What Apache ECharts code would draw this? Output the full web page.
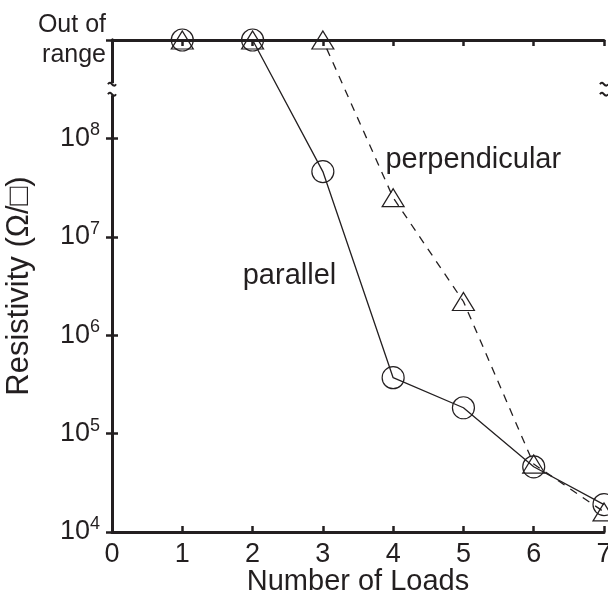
<!DOCTYPE html>
<html>
<head>
<meta charset="utf-8">
<script src="https://cdn.jsdelivr.net/npm/echarts@6/dist/echarts.min.js"></script>
<style>
html,body{margin:0;padding:0;background:#fff;}
#chart{width:608px;height:603px;}
</style>
</head>
<body>
<div id="chart"></div>
<script>
// Data
const loads = [1, 2, 3, 4, 5, 6, 7];
const OUT_OF_RANGE = 1e9;
const parallelValues = [OUT_OF_RANGE, OUT_OF_RANGE, 4.6e7, 3.7e5, 1.83e5, 4.6e4, 1.9e4];
const perpendicularValues = [OUT_OF_RANGE, OUT_OF_RANGE, OUT_OF_RANGE, 2.5e7, 2.2e6, 4.9e4, 1.6e4];
const yTickExponents = [4, 5, 6, 7, 8];
const xTickLabels = ['0', '1', '2', '3', '4', '5', '6', '7'];
const outOfRangeLines = ['Out of', 'range'];

const FONT = 'Liberation Sans, Arial, Helvetica, sans-serif';
const INK = '#231f20';
const FS = 27;
const FT = 29;

const chart = echarts.init(document.getElementById('chart'), null, {renderer: 'canvas'});

function pairs(xs, ys) { return xs.map((x, i) => [x, ys[i]]); }

const axisLine = {show: true, lineStyle: {color: INK, width: 3}};
const tickIn = {show: true, inside: true, length: 6, lineStyle: {color: INK, width: 2.5}};

const option = {
  animation: false,
  backgroundColor: '#fff',
  grid: {left: 112, right: 4, top: 40, bottom: 71, containLabel: false, outerBoundsMode: 'none'},
  xAxis: [
    {
      type: 'value', min: 0, max: 7, interval: 1, position: 'bottom',
      axisLine: axisLine, axisTick: tickIn, splitLine: {show: false},
      axisLabel: {
        margin: 9, color: INK, fontFamily: FONT, fontSize: FS, hideOverlap: false,
        formatter: v => xTickLabels[Math.round(v)]
      },
      name: 'Number of Loads', nameLocation: 'middle', nameGap: 35, nameMoveOverlap: false,
      nameTextStyle: {color: INK, fontFamily: FONT, fontSize: FT}
    },
    {
      type: 'value', min: 0, max: 7, interval: 1, position: 'top',
      axisLine: axisLine, axisTick: tickIn, axisLabel: {show: false}, splitLine: {show: false}
    }
  ],
  yAxis: [
    {
      type: 'log', logBase: 10, min: 1e4, max: 1e9, position: 'left',
      axisLine: axisLine, axisTick: tickIn, splitLine: {show: false},
      axisLabel: {
        margin: 12, color: INK, fontFamily: FONT, fontSize: FS, hideOverlap: false,
        formatter: function (v) {
          const e = Math.round(Math.log10(v));
          if (e === 9) return '{o|' + outOfRangeLines[0] + '}\n{o|' + outOfRangeLines[1] + '}';
          if (yTickExponents.indexOf(e) < 0) return '';
          return '{b|10}{s|' + e + '}';
        },
        rich: {
          b: {fontFamily: FONT, fontSize: FS, color: INK, lineHeight: 32},
          s: {fontFamily: FONT, fontSize: 18, color: INK, padding: [0, 0, 16, 0], lineHeight: 32},
          o: {fontFamily: FONT, fontSize: 25, color: INK, lineHeight: 30, align: 'right', padding: [0, -6, 0, 0]}
        }
      },
      name: 'Resistivity (\u03A9/\u25A1)', nameLocation: 'middle', nameGap: 77, nameRotate: 90, nameMoveOverlap: false,
      nameTextStyle: {color: INK, fontFamily: FONT, fontSize: 31}
    },
    {
      type: 'log', logBase: 10, min: 1e4, max: 1e9, position: 'right',
      axisLine: axisLine, axisTick: tickIn, axisLabel: {show: false}, splitLine: {show: false}
    }
  ],
  series: [
    {
      name: 'parallel', type: 'line', data: pairs(loads, parallelValues),
      symbol: 'circle', symbolSize: 22, clip: false, z: 3,
      lineStyle: {color: INK, width: 1.3, type: 'solid'},
      itemStyle: {color: 'rgba(0,0,0,0)', borderColor: INK, borderWidth: 1.2}
    },
    {
      name: 'perpendicular', type: 'line', data: pairs(loads, perpendicularValues),
      symbol: 'triangle', symbolSize: [22, 18], clip: false, z: 3,
      lineStyle: {color: INK, width: 1.3, type: [8, 7]},
      itemStyle: {color: 'rgba(0,0,0,0)', borderColor: INK, borderWidth: 1.2}
    }
  ]
};
chart.setOption(option);

// annotations and axis breaks positioned through the chart's own scales
function px(x, y) { return chart.convertToPixel({xAxisIndex: 0, yAxisIndex: 0}, [x, y]); }
const pPerp = px(3.89, Math.pow(10, 7.78));
const pPar = px(1.86, Math.pow(10, 6.6));
const yBreak = chart.convertToPixel({yAxisIndex: 0}, Math.pow(10, 8.5));
const xLeft = chart.convertToPixel({xAxisIndex: 0}, 0);
const xRight = chart.convertToPixel({xAxisIndex: 0}, 7);

function breakMark(x) {
  return [
    {type: 'rect', shape: {x: x - 5, y: yBreak - 6, width: 10, height: 12}, style: {fill: '#fff'}, z: 100},
    {type: 'bezierCurve', shape: {x1: x - 4, y1: yBreak - 5, x2: x + 4, y2: yBreak - 5, cpx1: x - 1, cpy1: yBreak - 10, cpx2: x + 1, cpy2: yBreak}, style: {stroke: INK, lineWidth: 2, fill: null}, z: 101},
    {type: 'bezierCurve', shape: {x1: x - 4, y1: yBreak + 5, x2: x + 4, y2: yBreak + 5, cpx1: x - 1, cpy1: yBreak, cpx2: x + 1, cpy2: yBreak + 10}, style: {stroke: INK, lineWidth: 2, fill: null}, z: 101}
  ];
}

chart.setOption({
  graphic: [
    {type: 'text', x: pPerp[0], y: pPerp[1], style: {text: 'perpendicular', font: FT + 'px ' + FONT, fill: INK, textAlign: 'left', textVerticalAlign: 'middle'}, z: 50},
    {type: 'text', x: pPar[0], y: pPar[1], style: {text: 'parallel', font: FT + 'px ' + FONT, fill: INK, textAlign: 'left', textVerticalAlign: 'middle'}, z: 50}
  ].concat(breakMark(xLeft)).concat(breakMark(xRight))
});
</script>
</body>
</html>
